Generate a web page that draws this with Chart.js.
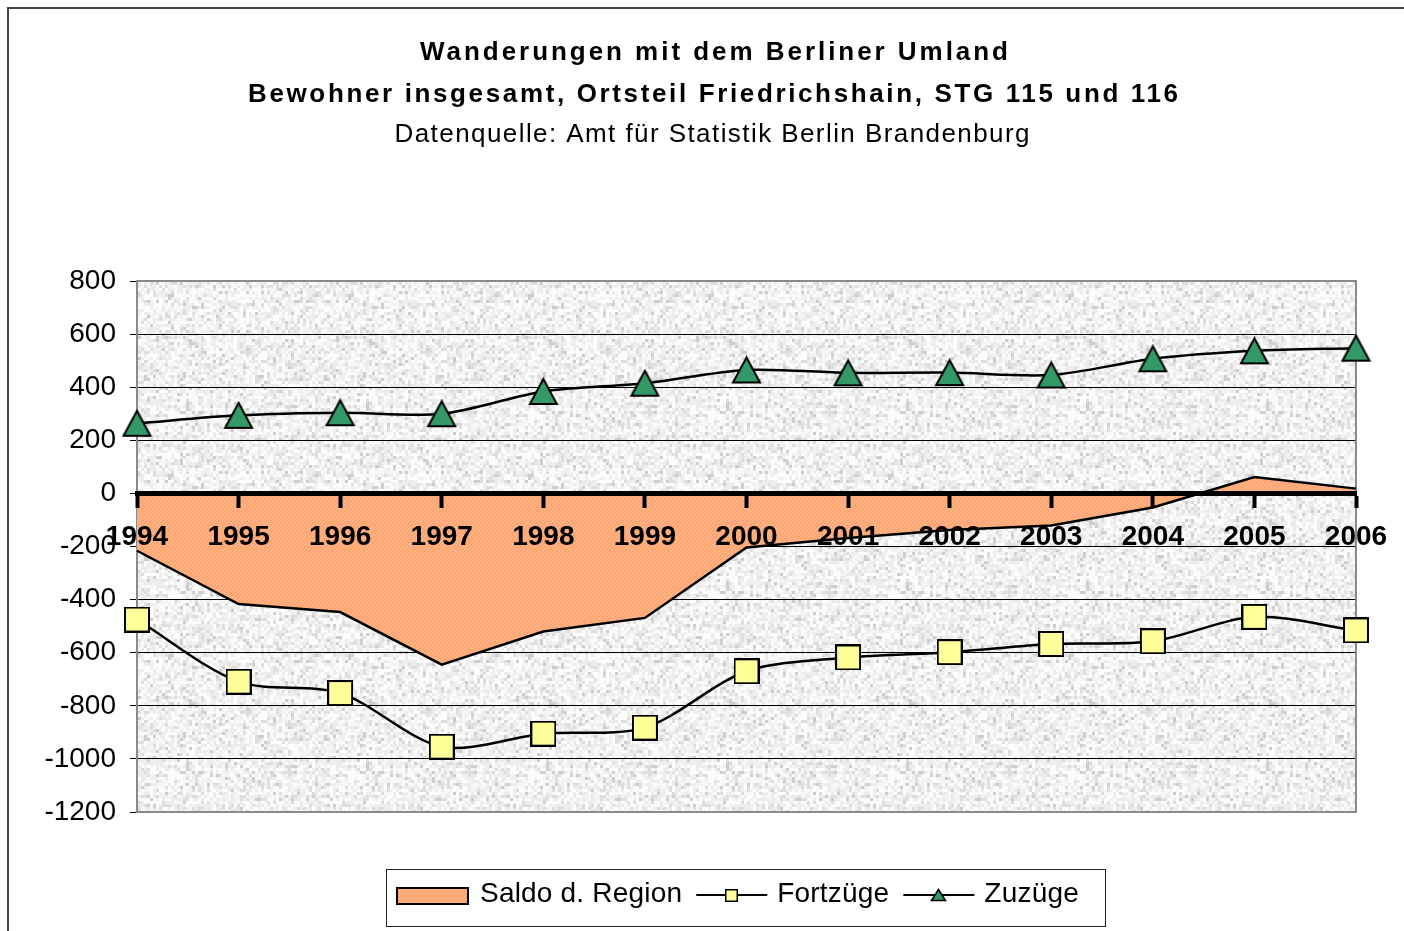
<!DOCTYPE html>
<html>
<head>
<meta charset="utf-8">
<script src="https://cdn.jsdelivr.net/npm/chart.js@4.4.1/dist/chart.umd.min.js"></script>
<style>
  html, body { margin: 0; padding: 0; background: #fff; overflow: hidden; }
  #wrap { width: 1404px; height: 931px; }
</style>
</head>
<body>
<div id="wrap"><canvas id="chart" width="1404" height="931"></canvas></div>
<script>
// Daten
const jahre = ['1994', '1995', '1996', '1997', '1998', '1999', '2000', '2001', '2002', '2003', '2004', '2005', '2006'];
const saldo = [-216, -417, -447, -645, -520, -469, -204, -168, -138, -121, -53, 62, 18];
const fortzuege = [-475, -709, -752, -954, -905, -882, -670, -618, -598, -567, -557, -465, -516];
const zuzuege = [264, 294, 304, 300, 384, 415, 465, 454, 455, 446, 507, 537, 547];
const yMin = -1200, yMax = 800, yStep = 200;

const titel1 = 'Wanderungen mit dem Berliner Umland';
const titel2 = 'Bewohner insgesamt, Ortsteil Friedrichshain, STG 115 und 116';
const quelle = 'Datenquelle: Amt für Statistik Berlin Brandenburg';

const FONT = "'Liberation Sans', Arial, sans-serif";

// Muster: Granit-Hintergrund
function makeGranite() {
    const c = document.createElement('canvas');
    c.width = 180; c.height = 180;
    const g = c.getContext('2d');
    g.fillStyle = '#eeeded';
    g.fillRect(0, 0, 180, 180);
    let seed = 4711;
    const rnd = () => { seed = (seed * 1103515245 + 12345) % 2147483648; return seed / 2147483648; };
    for (let y = 0; y < 180; y += 3) {
        for (let x = 0; x < 180; x += 3) {
            const r = rnd();
            let col = null;
            if (r < 0.30) col = '#fcfcfb';
            else if (r < 0.47) col = '#f5f5f4';
            else if (r < 0.61) col = '#dfdddd';
            else if (r < 0.67) col = '#cfcdcd';
            if (col) { g.fillStyle = col; g.fillRect(x, y, 3, 3); }
        }
    }
    return g.createPattern(c, 'repeat');
}

// Muster: schraffiertes Orange
function makeHatch() {
    const c = document.createElement('canvas');
    c.width = 4; c.height = 4;
    const g = c.getContext('2d');
    g.fillStyle = '#ffb07e';
    g.fillRect(0, 0, 4, 4);
    g.fillStyle = '#f4a06e';
    for (let i = 0; i < 4; i++) g.fillRect(i, 3 - i, 1, 1);
    return g.createPattern(c, 'repeat');
}

function makeTriangle(w, h, lw) {
    const c = document.createElement('canvas');
    c.width = w; c.height = h;
    const g = c.getContext('2d');
    g.beginPath();
    g.moveTo(w / 2, lw);
    g.lineTo(w - lw, h - lw);
    g.lineTo(lw, h - lw);
    g.closePath();
    g.fillStyle = '#339966';
    g.fill();
    g.lineWidth = lw;
    g.strokeStyle = '#000';
    g.stroke();
    return c;
}

function makeSquare(s, lw) {
    const c = document.createElement('canvas');
    c.width = s; c.height = s;
    const g = c.getContext('2d');
    g.fillStyle = '#ffff99';
    g.fillRect(lw / 2, lw / 2, s - lw, s - lw);
    g.lineWidth = lw;
    g.strokeStyle = '#000';
    g.strokeRect(lw / 2, lw / 2, s - lw, s - lw);
    return c;
}

const granite = makeGranite();
const hatch = makeHatch();
const triMarker = makeTriangle(31, 29, 2);
const sqMarker = makeSquare(26, 2);
const triSmall = makeTriangle(17, 14, 1.5);
const sqSmall = makeSquare(13, 1.5);

// Text mit Sperrung auf eine Breite bringen
function spacedText(ctx, txt, cx, y, font, width) {
    ctx.font = font;
    ctx.letterSpacing = '0px';
    const w0 = ctx.measureText(txt).width;
    const ls = Math.max(0, (width - w0) / (txt.length - 1));
    ctx.letterSpacing = ls + 'px';
    ctx.textAlign = 'left';
    ctx.fillText(txt, cx - (w0 + ls * (txt.length - 1)) / 2, y);
    ctx.letterSpacing = '0px';
}

const deko = {
    id: 'deko',
    beforeDraw(chart) {
        const ctx = chart.ctx;
        const a = chart.chartArea;
        ctx.save();
        ctx.fillStyle = '#fff';
        ctx.fillRect(0, 0, chart.width, chart.height);
        // Rahmen
        ctx.strokeStyle = '#444';
        ctx.lineWidth = 2;
        ctx.beginPath();
        ctx.moveTo(8, chart.height);
        ctx.lineTo(8, 8);
        ctx.lineTo(chart.width, 8);
        ctx.stroke();
        // Titel
        ctx.fillStyle = '#000';
        ctx.textBaseline = 'middle';
        spacedText(ctx, titel1, 714, 53, 'bold 26px ' + FONT, 588);
        spacedText(ctx, titel2, 713, 95, 'bold 26px ' + FONT, 930);
        spacedText(ctx, quelle, 712, 135, '26px ' + FONT, 635);
        // Hintergrund Plotfläche
        ctx.fillStyle = granite;
        ctx.fillRect(a.left, a.top, a.right - a.left, a.bottom - a.top);
        ctx.restore();
    },
    beforeDatasetsDraw(chart) {
        const ctx = chart.ctx;
        const a = chart.chartArea;
        ctx.save();
        ctx.strokeStyle = '#8a8a8a';
        ctx.lineWidth = 2;
        ctx.strokeRect(a.left, a.top, a.right - a.left, a.bottom - a.top);
        ctx.restore();
    },
    afterDraw(chart) {
        // Legende
        const ctx = chart.ctx;
        const ds = chart.data.datasets;
        ctx.save();
        ctx.strokeStyle = '#222';
        ctx.lineWidth = 1;
        ctx.strokeRect(386.5, 869.5, 719, 57);
        const cy = 895;
        ctx.font = '28px ' + FONT;
        ctx.letterSpacing = '0.2px';
        ctx.textBaseline = 'alphabetic';
        ctx.textAlign = 'left';
        let x = 397;
        // Saldo
        ctx.fillStyle = hatch;
        ctx.fillRect(x, cy - 7, 71, 16);
        ctx.strokeStyle = '#000';
        ctx.lineWidth = 2;
        ctx.strokeRect(x, cy - 7, 71, 16);
        x += 83;
        ctx.fillStyle = '#000';
        ctx.fillText(ds[0].label, x, cy + 7);
        x += ctx.measureText(ds[0].label).width + 14;
        // Linien
        [[ds[1], sqSmall], [ds[2], triSmall]].forEach(([d, m]) => {
            ctx.strokeStyle = '#000';
            ctx.lineWidth = 2;
            ctx.beginPath();
            ctx.moveTo(x, cy);
            ctx.lineTo(x + 71, cy);
            ctx.stroke();
            ctx.drawImage(m, Math.round(x + 35 - m.width / 2), Math.round(cy - m.height / 2));
            x += 81;
            ctx.fillStyle = '#000';
            ctx.fillText(d.label, x, cy + 7);
            x += ctx.measureText(d.label).width + 14;
        });
        ctx.restore();
    }
};

const ctx = document.getElementById('chart').getContext('2d');
new Chart(ctx, {
    type: 'line',
    data: {
        labels: jahre,
        datasets: [
            {
                label: 'Saldo d. Region',
                data: saldo,
                order: 3,
                fill: 'origin',
                backgroundColor: hatch,
                borderColor: '#000',
                borderWidth: 2.5,
                tension: 0,
                pointRadius: 0
            },
            {
                label: 'Fortzüge',
                data: fortzuege,
                order: 2,
                fill: false,
                borderColor: '#000',
                borderWidth: 2.5,
                tension: 0.3,
                pointStyle: sqMarker,
                pointRadius: 13
            },
            {
                label: 'Zuzüge',
                data: zuzuege,
                order: 1,
                fill: false,
                borderColor: '#000',
                borderWidth: 2.5,
                tension: 0.3,
                pointStyle: triMarker,
                pointRadius: 14
            }
        ]
    },
    options: {
        responsive: false,
        devicePixelRatio: 1,
        animation: false,
        layout: { padding: { top: 281, right: 48, bottom: 119, left: 0 } },
        plugins: {
            legend: { display: false },
            title: { display: false },
            tooltip: { enabled: false }
        },
        scales: {
            x: {
                type: 'category',
                position: { y: 0 },
                offset: false,
                grid: { drawOnChartArea: false, drawTicks: true, tickLength: 12, tickWidth: 4, tickColor: '#000', z: 1 },
                border: { display: true, color: '#000', width: 5, z: 1 },
                ticks: {
                    color: '#000',
                    font: { family: FONT, size: 28, weight: 'bold' },
                    padding: 15,
                    maxRotation: 0,
                    autoSkip: false,
                    z: 1
                }
            },
            y: {
                min: yMin,
                max: yMax,
                afterFit: s => { s.width = 137; },
                grid: {
                    color: c => (c.tick && (c.tick.value === yMax || c.tick.value === yMin)) ? 'rgba(0,0,0,0)' : '#000',
                    lineWidth: 1,
                    tickLength: 7,
                    tickColor: '#000'
                },
                border: { display: true, color: '#8a8a8a', width: 2 },
                ticks: {
                    stepSize: yStep,
                    color: '#000',
                    font: { family: FONT, size: 28 },
                    padding: 14,
                    callback: v => String(v)
                }
            }
        }
    },
    plugins: [deko]
});
</script>
</body>
</html>
